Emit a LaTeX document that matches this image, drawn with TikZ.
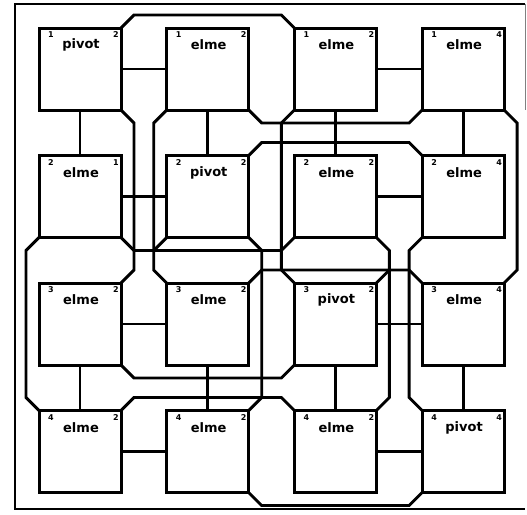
\documentclass[tikz,border=0pt]{standalone}
\usepackage{fontspec}
\newfontfamily\lblfont{DejaVu Sans}
\usetikzlibrary{calc}
\begin{document}
\begin{tikzpicture}[x=1pt,y=-1pt,
  wire/.style={line width=2.9pt, line join=miter},
  pe/.style={draw, line width=3pt, minimum width=82pt, minimum height=82pt, inner sep=0pt, outer sep=0pt, anchor=north west},
  nm/.style={font=\lblfont\bfseries\fontsize{13}{13}\selectfont, inner sep=0pt},
  num/.style={font=\lblfont\bfseries\fontsize{8}{8}\selectfont, inner sep=0pt}]
\useasboundingbox (0,0) rectangle (527,514);
% frame
\draw[wire] (525,4) -- (15,4) -- (15,509) -- (525,509);
\draw[gray, line width=1pt] (525,4) -- (525,110);
% boxes
\foreach \r/\y in {1/28,2/155.5,3/283,4/410.5}{
  \foreach \c/\x in {1/39,2/166.7,3/294.4,4/422.1}{
    \node[pe] (b\r\c) at (\x,\y) {};
  }
}
% labels
\foreach \r/\c/\t/\a/\b in {1/1/pivot/1/2, 1/2/elme/1/2, 1/3/elme/1/2, 1/4/elme/1/4,
  2/1/elme/2/1, 2/2/pivot/2/2, 2/3/elme/2/2, 2/4/elme/2/4,
  3/1/elme/3/2, 3/2/elme/3/2, 3/3/pivot/3/2, 3/4/elme/3/4,
  4/1/elme/4/2, 4/2/elme/4/2, 4/3/elme/4/2, 4/4/pivot/4/4}{
  \node[nm] (t\r\c) at ($(b\r\c.north)+(1,17)$) {\t};
  \node[num] (l\r\c) at ($(b\r\c.north west)+(12,7)$) {\a};
  \node[num] (r\r\c) at ($(b\r\c.north east)+(-5,7)$) {\b};
}
% row / column links
\foreach \r in {1,2,3,4}{
  \draw[wire] (b\r1.east) -- (b\r2.west);
  \draw[wire] (b\r3.east) -- (b\r4.west);
}
\foreach \c in {1,2,3,4}{
  \draw[wire] (b1\c.south) -- (b2\c.north);
  \draw[wire] (b3\c.south) -- (b4\c.north);
}
% corner buses
\draw[wire] (b11.north east) -- ++(13,-13) -- ($(b13.north west)+(-13,-13)$) -- (b13.north west);
\draw[wire] (b11.south east) -- ++(13,13) -- ($(b31.north east)+(13,-13)$) -- (b31.north east);
\draw[wire] (b12.south west) -- ++(-13,13) -- ($(b32.north west)+(-13,-13)$) -- (b32.north west);
\draw[wire] (b12.south east) -- ++(13,13) -- ($(b14.south west)+(-13,13)$) -- (b14.south west);
\draw[wire] (b13.south west) -- ++(-13,13) -- ($(b33.north west)+(-13,-13)$) -- (b33.north west);
\draw[wire] (b14.south east) -- ++(13,13) -- ($(b34.north east)+(13,-13)$) -- (b34.north east);
\draw[wire] (b21.south west) -- ++(-13,13) -- ($(b41.north west)+(-13,-13)$) -- (b41.north west);
\draw[wire] (b21.south east) -- ++(13,13) -- ($(b23.south west)+(-13,13)$) -- (b23.south west);
\draw[wire] (b22.north east) -- ++(13,-13) -- ($(b24.north west)+(-13,-13)$) -- (b24.north west);
\draw[wire] (b22.south west) -- ++(-13,13);
\draw[wire] (b33.north east) -- ++(13,-13);
\draw[wire] (b22.south east) -- ++(13,13) -- ($(b42.north east)+(13,-13)$) -- (b42.north east);
\draw[wire] (b23.south east) -- ++(13,13) -- ($(b43.north east)+(13,-13)$) -- (b43.north east);
\draw[wire] (b24.south west) -- ++(-13,13) -- ($(b44.north west)+(-13,-13)$) -- (b44.north west);
\draw[wire] (b32.north east) -- ++(13,-13) -- ($(b34.north west)+(-13,-13)$) -- (b34.north west);
\draw[wire] (b31.south east) -- ++(13,13) -- ($(b33.south west)+(-13,13)$) -- (b33.south west);
\draw[wire] (b41.north east) -- ++(13,-13) -- ($(b43.north west)+(-13,-13)$) -- (b43.north west);
\draw[wire] (b42.south east) -- ++(13,13) -- ($(b44.south west)+(-13,13)$) -- (b44.south west);
\end{tikzpicture}
\end{document}
